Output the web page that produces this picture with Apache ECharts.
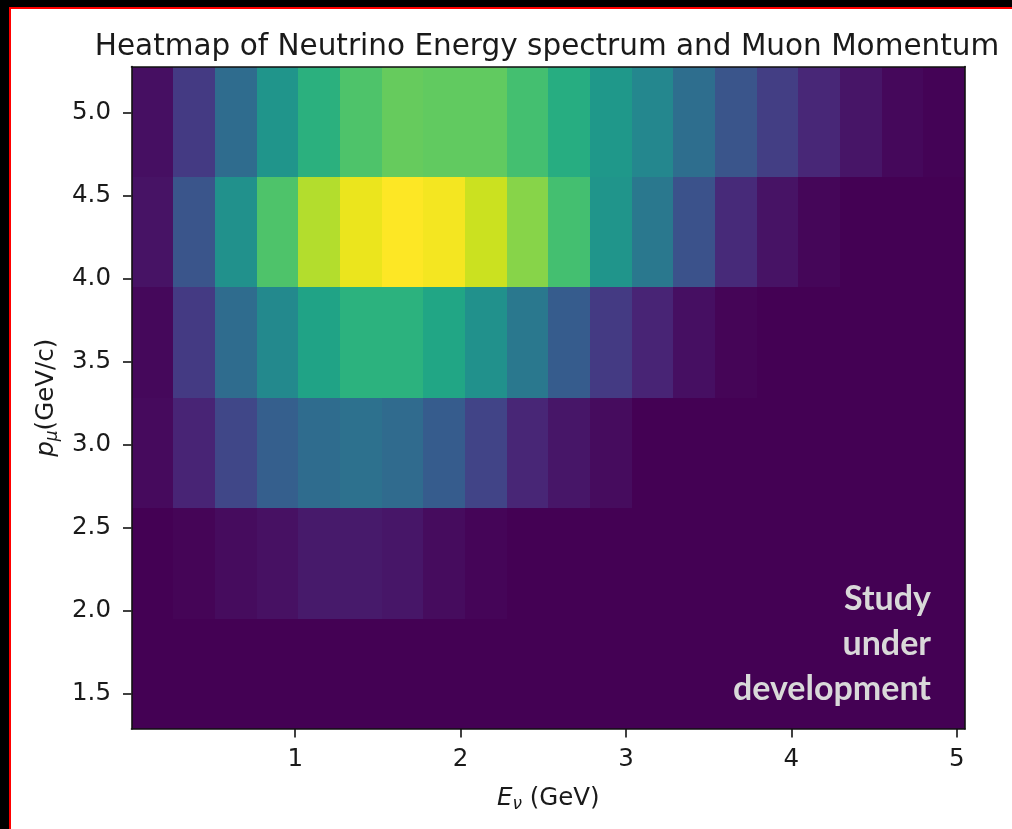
<!DOCTYPE html>
<html><head><meta charset="utf-8">
<script src="https://cdn.jsdelivr.net/npm/echarts@6/dist/echarts.min.js"></script>
<style>html,body{margin:0;padding:0;background:#fff}#c{width:1012px;height:829px}</style>
</head><body><div id="c"></div>
<script>
// Bin edges of the 2D histogram
const xEdges = [0.01, 0.262, 0.514, 0.766, 1.018, 1.27, 1.522, 1.774, 2.026, 2.278, 2.53,
                2.782, 3.034, 3.286, 3.538, 3.79, 4.042, 4.294, 4.546, 4.798, 5.05];
const yEdges = [1.29, 1.955, 2.62, 3.285, 3.95, 4.615, 5.28];
// Normalised bin contents, one array per p_mu row (bottom to top), 20 E_nu bins each
const rowP1 = [0,0,0,0,0,0,0,0,0,0,0,0,0,0,0,0,0,0,0,0];
const rowP2 = [0,0.01,0.03,0.045,0.07,0.07,0.06,0.03,0.012,0,0,0,0,0,0,0,0,0,0,0];
const rowP3 = [0.025,0.10,0.21,0.30,0.35,0.37,0.345,0.29,0.20,0.105,0.06,0.03,0,0,0,0,0,0,0,0];
const rowP4 = [0.02,0.17,0.35,0.47,0.58,0.64,0.64,0.59,0.50,0.40,0.29,0.17,0.10,0.04,0.01,0,0,0,0,0];
const rowP5 = [0.05,0.26,0.50,0.72,0.885,0.97,1.0,0.985,0.92,0.82,0.70,0.52,0.40,0.25,0.12,0.05,0.015,0,0,0];
const rowP6 = [0.04,0.17,0.35,0.52,0.635,0.72,0.765,0.755,0.755,0.70,0.62,0.53,0.46,0.36,0.26,0.18,0.11,0.055,0.02,0.005];
const rows = [rowP1, rowP2, rowP3, rowP4, rowP5, rowP6];
// Tick labels
const xTicks = [1, 2, 3, 4, 5];
const yTicks = [1.5, 2.0, 2.5, 3.0, 3.5, 4.0, 4.5, 5.0];
const titleText = 'Heatmap of Neutrino Energy spectrum and Muon Momentum';
const noteText = 'Study\nunder\ndevelopment';

const viridis = ['#440154','#471365','#482475','#463480','#414487','#3b528b','#355f8d','#2f6c8e',
  '#2a788e','#25848e','#21918c','#1e9c89','#22a884','#2fb47c','#44bf70','#5ec962','#7ad151',
  '#9bd93c','#bddf26','#dfe318','#fde725'];

const cells = [];
rows.forEach((row, j) => row.forEach((v, i) => {
  cells.push([xEdges[i], yEdges[j], xEdges[i + 1], yEdges[j + 1], v]);
}));

const FONT = 'DejaVu Sans';
const TXT = '#1a1a1a';
const rich = {
  i: {fontFamily: FONT, fontStyle: 'italic', fontSize: 24.5, color: TXT, verticalAlign: 'top'},
  s: {fontFamily: FONT, fontStyle: 'italic', fontSize: 17, color: TXT, verticalAlign: 'top', padding: [10, 0, 0, 0]},
  n: {fontFamily: FONT, fontSize: 24.5, color: TXT, verticalAlign: 'top'}
};

const chart = echarts.init(document.getElementById('c'), null, {renderer: 'canvas'});
const axisLineStyle = {color: '#111', width: 1.6};
chart.setOption({
  backgroundColor: '#ffffff',
  animation: false,
  title: {
    text: titleText, left: 542, top: 27, textAlign: 'center',
    textStyle: {fontFamily: FONT, fontSize: 29.5, fontWeight: 'normal', color: TXT}
  },
  grid: {left: 131.5, top: 66.5, right: 47, bottom: 100, containLabel: false},
  visualMap: {type: 'continuous', show: false, min: 0, max: 1, dimension: 4, seriesIndex: 0,
    inRange: {color: viridis}},
  xAxis: [{
    type: 'value', min: xEdges[0], max: xEdges[xEdges.length - 1], position: 'bottom', z: 10,
    axisLine: {show: true, onZero: false, lineStyle: axisLineStyle},
    axisTick: {show: true, customValues: xTicks, length: 8.5, lineStyle: {color: '#111', width: 1.6}},
    axisLabel: {customValues: xTicks, margin: 18, fontFamily: FONT, fontSize: 24.5, color: TXT},
    splitLine: {show: false},
    name: '{i|E}{s|ν}{n| (GeV)}', nameLocation: 'middle', nameGap: 57,
    nameTextStyle: {rich: rich}
  }, {
    type: 'value', min: xEdges[0], max: xEdges[xEdges.length - 1], position: 'top', z: 10,
    axisLine: {show: true, onZero: false, lineStyle: axisLineStyle},
    axisTick: {show: false}, axisLabel: {show: false}, splitLine: {show: false}
  }],
  yAxis: [{
    type: 'value', min: yEdges[0], max: yEdges[yEdges.length - 1], position: 'left', z: 10,
    axisLine: {show: true, onZero: false, lineStyle: axisLineStyle},
    axisTick: {show: true, customValues: yTicks, length: 8.5, lineStyle: {color: '#111', width: 1.6}},
    axisLabel: {customValues: yTicks, margin: 20.5, fontFamily: FONT, fontSize: 24.5, color: TXT,
      padding: [4, 0, 0, 0], formatter: v => v.toFixed(1)},
    splitLine: {show: false},
    name: '{i|p}{s|μ}{n|(GeV/c)}', nameLocation: 'middle', nameRotate: 90, nameGap: 62,
    nameTextStyle: {rich: rich}
  }, {
    type: 'value', min: yEdges[0], max: yEdges[yEdges.length - 1], position: 'right', z: 10,
    axisLine: {show: true, onZero: false, lineStyle: axisLineStyle},
    axisTick: {show: false}, axisLabel: {show: false}, splitLine: {show: false}
  }],
  series: [{
    type: 'custom', clip: true,
    dimensions: ['x0', 'y0', 'x1', 'y1', 'value'],
    encode: {x: [0, 2], y: [1, 3]},
    data: cells,
    renderItem: function (params, api) {
      const p0 = api.coord([api.value(0), api.value(3)]);
      const p1 = api.coord([api.value(2), api.value(1)]);
      const x = Math.round(p0[0]), y = Math.round(p0[1]);
      const c = api.visual('color');
      return {type: 'rect',
        shape: {x: x, y: y, width: Math.round(p1[0]) - x, height: Math.round(p1[1]) - y},
        style: {fill: c}};
    }
  }],
  graphic: [
    {type: 'rect', left: 0, top: 0, shape: {width: 9, height: 829}, style: {fill: '#000'}, silent: true},
    {type: 'rect', left: 0, top: 0, shape: {width: 1012, height: 7}, style: {fill: '#000'}, silent: true},
    {type: 'rect', left: 9, top: 7, shape: {width: 2, height: 822}, style: {fill: '#ff0000'}, silent: true},
    {type: 'rect', left: 9, top: 7, shape: {width: 1003, height: 2}, style: {fill: '#ff0000'}, silent: true},
    {type: 'text', z: 100, x: 931, y: 577, silent: true,
      style: {text: noteText, align: 'right', verticalAlign: 'top', lineHeight: 45,
        fontFamily: 'Lato', fontWeight: 'bold', fontSize: 34, fill: '#d9d9d9'}}
  ]
});
</script></body></html>
